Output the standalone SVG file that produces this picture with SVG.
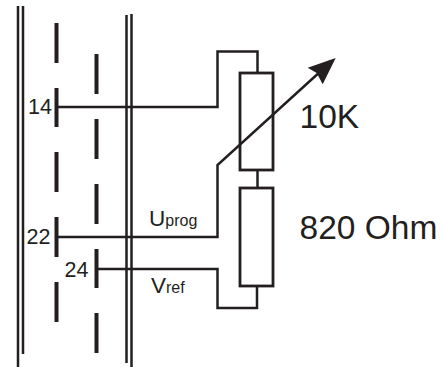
<svg xmlns="http://www.w3.org/2000/svg" width="444" height="367" viewBox="0 0 444 367">
<style>
.w{fill:none;stroke:#231f20;stroke-width:2.5;stroke-linecap:butt;stroke-linejoin:miter}
.d{fill:none;stroke:#231f20;stroke-width:4}
.r{fill:none;stroke:#231f20;stroke-width:2.8}
text{font-family:"Liberation Sans",Arial,sans-serif;fill:#231f20}
.p{font-size:21.500px}.l{font-size:33.500px}.s{font-size:22.500px}.b{font-size:16px}
</style>
<rect width="444" height="367" fill="#fff"/>
<g id="connectors">
<path class="w" d="M18 6V367M23 6V354M126.500 15V363M131.500 14V367"/>
<path class="d" d="M56.500 23V63M56.500 88V127M56.500 152V192M56.500 217V257M56.500 282V322M96.500 54V94M96.500 119V159M96.500 184V224M96.500 249V288M96.500 313V353"/>
<path class="w" d="M57 107H217.500V51.500H257.500V73"/>
<path class="w" d="M257.500 170V188"/>
<path class="w" d="M96 269H217.500V308H257V286"/>
<path class="w" d="M57 237H217.500V165L322 70"/>
</g>
<g id="r1"><rect class="r" x="240" y="73" width="33" height="97"/></g>
<g id="r2"><rect class="r" x="240" y="188" width="33" height="98"/></g>
<polygon id="arrowhead" points="335.700,58 307.700,67.700 316.700,73 322.700,84.300" fill="#231f20"/>
<g id="labels">
<text class="p" x="28" y="113.500">14</text>
<text class="p" x="26.500" y="244">22</text>
<text class="p" x="64.500" y="277">24</text>
<text x="149" y="226"><tspan class="s">U</tspan><tspan class="b">prog</tspan></text>
<text x="151" y="293"><tspan class="s">V</tspan><tspan class="b">ref</tspan></text>
<text class="l" x="299.500" y="127.500">10K</text>
<text class="l" x="299.500" y="239">820 Ohm</text>
</g>
</svg>
